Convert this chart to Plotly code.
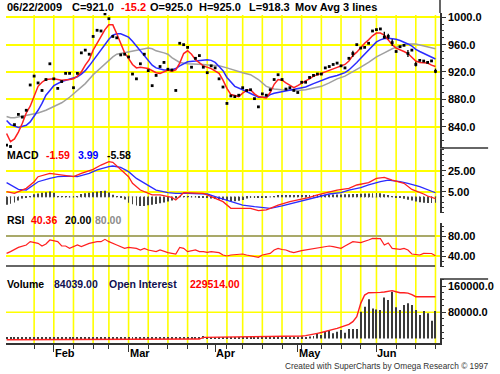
import plotly.graph_objects as go

# ---------------- data ----------------
# trading-day index 0 = 14 Jan 2009 ... 109 = 22 Jun 2009
close = [813, 811, 843, 858, 854, 864, 901, 914, 904, 893,
         909, 932, 910, 896, 906, 918, 918, 897, 918, 948,
         952, 946, 972, 981, 980, 1005, 998, 972, 970, 945,
         946, 942, 917, 910, 932, 946, 922, 900, 915, 928,
         934, 924, 923, 893, 962, 960, 956, 927, 940, 944,
         927, 919, 929, 926, 910, 898, 874, 885, 884, 886,
         897, 893, 894, 881, 869, 888, 886, 894, 909, 916,
         909, 895, 897, 893, 890, 905, 905, 912, 915, 917,
         917, 926, 928, 931, 933, 929, 926, 940, 947, 960,
         955, 956, 962, 980, 982, 983, 971, 972, 963, 950,
         957, 959, 947, 952, 931, 937, 936, 934, 936.2, 921]

bar_days = [88, 96, 97, 98, 102, 104, 109]
bar_high = [951, 979, 976, 968, 952, 935, 925]
bar_low = [942, 969, 968, 958, 942, 928, 918.3]

ma_red_x = [0, 1, 2, 3, 4, 5, 6, 7, 8, 9, 10, 12, 14, 16, 17, 18, 19, 20, 21, 22, 23, 24, 25, 26, 27, 28, 29, 30, 31, 32,
            33, 34, 36, 38, 39, 41, 42, 43, 44, 45, 46, 47, 48, 49, 50, 52, 53, 54, 55, 56, 57, 59, 60, 61, 62, 63, 64,
            66, 67, 68, 69, 70, 71, 72, 73, 74, 75, 76, 77, 78, 80, 82, 84, 85, 86, 87, 88, 89, 90, 91, 92, 93, 94, 95,
            96, 97, 98, 99, 100, 101, 102, 103, 104, 105, 106, 107, 108, 109]
ma_red_y = [830, 818, 822, 832, 845, 860, 870, 886, 899, 905, 909, 910, 908, 909, 910, 914, 920, 930, 938, 952, 962, 970,
            982, 989, 989, 976, 962, 948, 940, 931, 926, 927, 925, 919, 918, 923, 921, 923, 933, 947, 951, 946, 938, 934,
            929, 925, 922, 918, 908, 896, 887, 884, 889, 893, 894, 888, 884, 882, 890, 902, 909, 908, 904, 901, 897, 900,
            904, 907, 910, 914, 918, 922, 926, 928, 931, 936, 944, 949, 956, 962, 967, 973, 977, 977, 974, 967, 960, 955,
            953, 950, 947, 941, 936, 934, 933, 933, 930, 928]

ma_blue_x = [0, 1, 3, 4, 5, 6, 7, 8, 9, 10, 11, 12, 14, 16, 18, 19, 20, 21, 22, 23, 24, 25, 26, 27, 28, 29, 30, 31, 32,
             33, 34, 35, 36, 37, 38, 40, 42, 43, 44, 45, 46, 48, 50, 51, 52, 53, 54, 55, 56, 57, 58, 60, 62, 64, 66, 67,
             68, 70, 72, 74, 76, 78, 80, 82, 84, 86, 87, 88, 89, 90, 91, 92, 93, 94, 95, 96, 97, 98, 99, 100, 101, 102,
             103, 104, 105, 106, 107, 108, 109]
ma_blue_y = [849, 843, 839, 840, 842, 847, 855, 864, 874, 886, 893, 900, 906, 910, 913, 917, 922, 929, 937, 945, 953, 961,
             968, 974, 976, 976, 974, 971, 965, 958, 952, 945, 937, 930, 926, 923, 923, 925, 929, 932, 935, 936, 937, 938,
             937, 934, 928, 922, 912, 905, 899, 894, 888, 883, 883, 887, 889, 891, 893, 895, 898, 903, 908, 912, 915, 919,
             923, 928, 934, 940, 946, 952, 958, 964, 967, 969, 969.5, 969, 968, 966, 964, 961, 958, 953, 950, 947, 945,
             942, 939]

ma_gray_x = [0, 1, 2, 4, 6, 8, 10, 12, 14, 16, 18, 20, 22, 24, 26, 27, 28, 30, 32, 34, 36, 37, 38, 40, 41, 42, 44, 46,
             48, 50, 52, 54, 56, 58, 60, 62, 64, 66, 68, 70, 72, 74, 76, 78, 80, 82, 84, 86, 88, 90, 92, 94, 96, 98, 100,
             102, 104, 106, 108, 109]
ma_gray_y = [855, 853, 853, 855, 857, 860, 864, 869, 875, 883, 893, 903, 916, 927, 937, 942, 946, 948, 951, 953, 955, 954,
             951, 948, 946, 941, 934, 932, 932, 931, 930, 929, 926, 922, 919, 916, 909, 899, 895, 894, 893, 893, 894, 896,
             899, 904, 910, 914, 920, 927, 934, 942, 948, 954, 958, 961, 961, 958, 955, 954]

macd_x = [0, 2, 3, 5, 7, 8, 11, 13, 15, 17, 19, 22, 24, 26, 27, 29, 31, 32, 34, 37, 39, 42, 43, 45, 47, 50, 52, 55, 57,
          60, 62, 64, 66, 67, 69, 72, 74, 77, 79, 82, 84, 87, 89, 92, 94, 96, 98, 101, 103, 106, 107, 109]
macd_y = [5, 3.4, 5, 8.2, 14.5, 19.3, 22.5, 21.5, 20.9, 19.3, 22.5, 26.3, 30.4, 33.6, 33, 26, 19.3, 13, 6.6, 1.9, 1.9,
          -0.4, -2.9, 4.1, 4.1, 3.4, 0.3, -4.5, -10.8, -10.8, -10.8, -13.1, -12.4, -10.8, -7.7, -4.5, -2.9, -0.4, 1.9,
          5, 6.6, 8.2, 11.4, 13.6, 17.7, 18.7, 16.1, 13, 7.2, 2.8, 0.9, -1.59]

signal_x = [0, 2, 3, 5, 7, 8, 11, 13, 16, 18, 21, 23, 26, 27, 29, 31, 33, 36, 38, 41, 43, 46, 48, 51, 53, 56, 58, 60, 63,
            66, 67, 70, 72, 75, 77, 80, 82, 85, 87, 90, 92, 95, 97, 100, 102, 105, 107, 109]
signal_y = [13.6, 9.8, 7.2, 6.6, 11.4, 14.5, 17.7, 19.3, 19.9, 19.3, 22.5, 25.7, 28.8, 29.5, 28.2, 24.1, 17.7, 11.4, 6.6,
            4.1, 3.4, 3.4, 3.4, 2.8, 0.3, -2.9, -5.4, -7.7, -9.3, -10.8, -10.8, -8.6, -6.7, -4.5, -2.3, 0.3, 2.8, 4.1,
            6.6, 8.8, 11.4, 14.5, 16.1, 14.5, 13, 9.8, 6.6, 3.99]

macd_hist = [-7.5, -6.5, -5.2, -3.5, -1.5, -0.3, 0.3, 2.5, 3.3, 4.0,
             4.5, 5.3, 4.0, 0.5, 0.2, 0.2, 0.3, 0.3, 0.8, 2.8,
             3.5, 4.1, 4.4, 5.0, 5.6, 6.0, 4.2, 2.0, 0.3, -0.5,
             -2.5, -5.5, -7.0, -8.2, -8.6, -8.6, -8.0, -7.5, -6.7, -6.0,
             -5.4, -4.4, -3.5, -1.5, 0.3, 0.4, 0.5, 0.4, 0.3, -0.3,
             -0.6, -1.0, -1.5, -2.0, -2.5, -3.0, -3.5, -4.0, -4.0, -3.6,
             -3.0, -1.5, -1.0, -0.8, -0.6, -0.4, -0.3, 0.0, 0.5, 1.0,
             1.2, 1.3, 1.5, 1.5, 1.6, 1.6, 1.7, 1.8, 1.8, 1.8,
             2.0, 2.0, 2.2, 2.3, 2.4, 2.4, 2.5, 2.6, 2.7, 2.8,
             3.0, 3.2, 3.4, 3.6, 3.8, 3.5, 2.5, 1.5, 0.5, -0.3,
             -1.0, -1.8, -2.6, -3.5, -4.3, -5.0, -5.5, -5.8, -5.7, -5.58]

rsi_x = [0, 1, 3, 5, 6, 8, 9, 10, 11, 13, 14, 15, 16, 18, 19, 20, 21, 23, 24, 25, 26, 28, 29, 30, 31, 33, 34, 35, 36, 38,
         39, 40, 41, 43, 44, 45, 46, 48, 49, 50, 51, 52, 54, 55, 56, 57, 59, 60, 61, 62, 64, 65, 67, 68, 69, 70, 71, 72,
         73, 75, 76, 78, 80, 81, 82, 83, 85, 86, 87, 88, 90, 91, 92, 93, 94, 95, 96, 97, 98, 100, 101, 102, 103, 105,
         106, 107, 108, 109]
rsi_y = [45.3, 48.7, 57.3, 62, 68.7, 65.3, 60, 64, 72, 68.7, 60, 60, 55.3, 62, 58.7, 62, 65.3, 68.7, 68.7, 73.3,
         68.7, 62, 58.7, 55.3, 57.3, 55.3, 52, 55.3, 52, 48.7, 52, 48.7, 46.7, 44, 57.3, 55.3, 48.7, 52, 48.7, 48.7,
         47.3, 48.7, 46.7, 42, 40, 42, 43.3, 44, 42, 40, 37.3, 42, 45.3, 52, 55.3, 53, 52, 48.7, 46.7, 50.7,
         52, 55.3, 57.3, 60, 60, 58.7, 55.3, 60, 64, 68.7, 66.7, 68.7, 72, 75.3, 75, 74.7, 62, 66, 55.3, 53.3,
         55.3, 52, 44, 42, 45.3, 45.3, 45, 40.36]

volume = [2500, 3000, 2800, 3200, 2600, 3400, 3000, 2700, 3100, 2900,
          2600, 3300, 2800, 3000, 2500, 2900, 3200, 2700, 3000, 3400,
          3100, 2800, 3300, 3600, 3000, 3500, 3200, 2900, 3100, 2700,
          2800, 3000, 2600, 3100, 2900, 2700, 3200, 2800, 3000, 2600,
          2900, 3100, 2700, 3000, 3300, 2800, 3000, 2600, 2900, 3200,
          8000, 3500, 3000, 3300, 2800, 3600, 3900, 3200, 3000, 3400,
          3600, 3300, 3900, 3500, 4200, 3800, 4500, 4000, 5200, 6000,
          4500, 5000, 4000, 5500, 4800, 6000, 5000, 6500, 8000, 16000,
          11000, 21000, 26000, 16000, 21000, 26000, 18000, 29000, 29000, 29000,
          81800, 97000, 119400, 91800, 88800, 86800, 125300, 117200, 142600, 95100,
          86800, 102000, 107300, 102000, 86800, 71600, 83800, 76800, 54400, 84039]

open_interest = [6700, 6700, 6800, 6800, 6900, 6900, 7000, 7000, 7000, 7100,
                 7100, 7100, 7200, 7200, 7200, 7300, 7300, 7300, 7400, 7400,
                 7400, 7500, 7500, 7500, 7600, 7600, 7700, 7700, 7800, 7800,
                 7800, 7900, 7900, 8000, 8000, 8000, 8100, 8100, 8200, 9500,
                 9500, 9600, 9600, 9700, 9700, 9800, 9800, 9900, 9900, 10000,
                 19000, 19200, 19300, 19400, 19500, 19600, 19700, 19800, 19900, 20000,
                 20000, 20100, 20200, 20300, 20400, 20500, 20600, 20700, 20800, 21000,
                 21500, 22000, 22800, 23600, 24500, 25900, 28000, 31000, 35000, 39700,
                 44000, 48300, 54000, 60000, 65600, 72000, 79000, 86000, 100000, 126000,
                 195000, 238000, 250000, 250000, 250000, 252000, 254000, 258000, 260700, 255000,
                 250000, 250000, 248000, 240000, 229514, 229514, 229514, 229514, 229514, 229514]

week_starts = [7, 12, 17, 22, 26, 31, 36, 41, 46, 51, 56, 60, 65, 70, 75, 80, 85, 90, 94, 99, 104, 109]
month_starts = [12, 31, 53, 74, 94]
month_labels = ["Feb", "Mar", "Apr", "May", "Jun"]

price_ticks = [840, 880, 920, 960, 1000]
macd_ticks = [5, 25]
rsi_ticks = [40, 80]
vol_ticks = [80000, 160000]

# ---------------- layout helpers ----------------
W, H = 500, 374
ML, MR, MT, MB = 6, 52, 13, 31
PW = W - ML - MR
PH = H - MT - MB


def fx(px):
    return (px - ML) / PW


def fy(py):
    return (H - MB - py) / PH


days = list(range(len(close)))
YEL = "#ffff00"
AX = "#333333"
FONT = "Liberation Sans, Arial, sans-serif"

fig = go.Figure()

# price pane
fig.add_trace(go.Scatter(x=ma_gray_x, y=ma_gray_y, mode="lines", line=dict(color="#a0a0a0", width=1.5), yaxis="y"))
fig.add_trace(go.Scatter(x=ma_blue_x, y=ma_blue_y, mode="lines", line=dict(color="#2b2bff", width=1.5), yaxis="y"))
fig.add_trace(go.Scatter(x=ma_red_x, y=ma_red_y, mode="lines", line=dict(color="#ff2020", width=1.5), yaxis="y"))
bx, by = [], []
for d, hi, lo in zip(bar_days, bar_high, bar_low):
    bx += [d, d, None]
    by += [lo, hi, None]
fig.add_trace(go.Scatter(x=bx, y=by, mode="lines", line=dict(color="#000", width=1.3), yaxis="y"))
fig.add_trace(go.Scatter(x=days, y=close, mode="markers",
                         marker=dict(symbol="square", size=2.8, color="#000", line=dict(width=0)), yaxis="y"))

# MACD pane
fig.add_trace(go.Bar(x=days, y=macd_hist, width=0.22, marker=dict(color="#444", line=dict(width=0)), yaxis="y2"))
fig.add_trace(go.Scatter(x=days, y=[0] * len(days), mode="markers",
                         marker=dict(symbol="square", size=1.3, color="#555", line=dict(width=0)), yaxis="y2"))
fig.add_trace(go.Scatter(x=signal_x, y=signal_y, mode="lines", line=dict(color="#2b2bff", width=1.3), yaxis="y2"))
fig.add_trace(go.Scatter(x=macd_x, y=macd_y, mode="lines", line=dict(color="#ff2020", width=1.3), yaxis="y2"))

# RSI pane
fig.add_trace(go.Scatter(x=rsi_x, y=rsi_y, mode="lines", line=dict(color="#ff2020", width=1.2), yaxis="y3"))

# Volume pane
fig.add_trace(go.Bar(x=days, y=volume, width=0.25, marker=dict(color="#3a3a3a", line=dict(width=0)), yaxis="y4"))
fig.add_trace(go.Scatter(x=days, y=open_interest, mode="lines", line=dict(color="#ff2020", width=1.4), yaxis="y5"))

tickfont = dict(family=FONT, size=11, color="#000", weight="bold")
common_y = dict(side="right", anchor="x", showline=True, linecolor=AX, linewidth=1.5, ticks="outside",
                ticklen=4, tickcolor=AX, tickfont=tickfont, zeroline=False, fixedrange=True)

fig.update_layout(
    width=W, height=H, margin=dict(l=ML, r=MR, t=MT, b=MB, pad=0),
    plot_bgcolor="white", paper_bgcolor="white", showlegend=False, barmode="overlay",
    font=dict(family=FONT, color="#000"),
    xaxis=dict(domain=[0, 1], range=[-0.15, 110.15], anchor="y4", showgrid=False, zeroline=False,
               showline=True, linecolor=AX, linewidth=1.5, ticks="outside", tickvals=month_starts,
               ticklen=7, tickcolor=AX, showticklabels=False,
               minor=dict(tickvals=week_starts, ticks="outside", ticklen=4, tickcolor=AX, showgrid=False)),
    yaxis=dict(domain=[fy(148), 1], range=[808.8, 1006.3], tickvals=price_ticks,
               ticktext=[f"{v:.1f}" for v in price_ticks], showgrid=True, gridcolor=YEL, gridwidth=1.6,
               minor=dict(dtick=10, ticks="outside", ticklen=2, tickcolor=AX, showgrid=False), **common_y),
    yaxis2=dict(domain=[fy(213), fy(149)], range=[-15.3, 45.7], tickvals=macd_ticks,
                ticktext=[f"{v:.2f}" for v in macd_ticks], showgrid=True, gridcolor=YEL, gridwidth=1.6,
                minor=dict(dtick=5, ticks="outside", ticklen=2, tickcolor=AX, showgrid=False), **common_y),
    yaxis3=dict(domain=[fy(267), fy(223)], range=[18, 106], tickvals=rsi_ticks,
                ticktext=[f"{v:.2f}" for v in rsi_ticks], showgrid=True, gridcolor=YEL, gridwidth=1.6,
                minor=dict(dtick=10, ticks="outside", ticklen=2, tickcolor=AX, showgrid=False), **common_y),
    yaxis4=dict(domain=[0, fy(279)], range=[-13400, 181300], tickvals=vol_ticks,
                ticktext=[f"{v:.1f}" for v in vol_ticks], showgrid=False,
                minor=dict(dtick=20000, ticks="outside", ticklen=2, tickcolor=AX, showgrid=False), **common_y),
    yaxis5=dict(overlaying="y4", range=[-10360, 321200], visible=False, anchor="x"),
)

shapes = []
for w in week_starts:
    shapes.append(dict(type="line", xref="x", yref="paper", x0=w, x1=w, y0=0, y1=fy(15),
                       line=dict(color=YEL, width=1.6), layer="below"))
shapes.append(dict(type="line", xref="paper", yref="y4", x0=0, x1=1, y0=80000, y1=80000,
                   line=dict(color=YEL, width=1.6), layer="below"))
shapes.append(dict(type="line", xref="paper", yref="y3", x0=0, x1=fx(443), y0=80, y1=80,
                   line=dict(color="#8c8c8c", width=1.5)))
shapes.append(dict(type="line", xref="paper", yref="y3", x0=0, x1=fx(443), y0=20, y1=20,
                   line=dict(color="#333", width=1.5)))
for py in (148, 279):
    shapes.append(dict(type="line", xref="paper", yref="paper", x0=1, x1=fx(497), y0=fy(py), y1=fy(py),
                       line=dict(color=AX, width=1.5)))
# right axis line continues above the price pane to the top edge
shapes.append(dict(type="line", xref="paper", yref="paper", x0=1, x1=1, y0=1, y1=fy(0),
                   line=dict(color=AX, width=1.5)))
fig.update_layout(shapes=shapes)

anns = []


def txt(px, py, s, color="#000", size=10.5, bold=True):
    anns.append(dict(xref="paper", yref="paper", x=fx(px), y=fy(py), xanchor="left", yanchor="middle",
                     text=(f"<b>{s}</b>" if bold else s), showarrow=False,
                     font=dict(family=FONT, size=size, color=color), borderpad=0))


HS = 11
txt(6, 7, "06/22/2009", size=HS)
txt(72, 7, "C=921.0", size=HS)
txt(122.5, 7, "-15.2", "#ff0000", size=HS)
txt(151.5, 7, "O=925.0", size=HS)
txt(202, 7, "H=925.0", size=HS)
txt(252, 7, "L=918.3", size=HS)
txt(299.5, 7, "Mov Avg 3 lines", size=HS)

txt(6, 155, "MACD")
txt(46, 155, "-1.59", "#ff0000")
txt(78, 155, "3.99", "#0000ff")
txt(108, 155, "-5.58")

txt(6, 220, "RSI")
txt(30, 220, "40.36", "#ff0000")
txt(65.5, 220, "20.00")
txt(96, 220, "80.00", "#8c8c8c")

txt(6, 284, "Volume")
txt(53.5, 284, "84039.00", "#101050")
txt(109.5, 284, "Open Interest", "#101050")
txt(192, 284, "229514.00", "#ff0000")

for d, lab in zip(month_starts, month_labels):
    anns.append(dict(xref="x", yref="paper", x=d, y=fy(353), xanchor="left", yanchor="middle",
                     text=f"<b>{lab}</b>", showarrow=False, xshift=0,
                     font=dict(family=FONT, size=11, color="#000"), borderpad=0))

anns.append(dict(xref="paper", yref="paper", x=fx(498), y=fy(366), xanchor="right", yanchor="middle",
                 text="Created with SuperCharts by Omega Research © 1997", showarrow=False,
                 font=dict(family=FONT, size=8.3, color="#333"), borderpad=0))
fig.update_layout(annotations=anns)

fig.write_html("out.html", config={"displayModeBar": False},
               post_script="document.body.style.margin='0';document.body.style.overflow='hidden';")
